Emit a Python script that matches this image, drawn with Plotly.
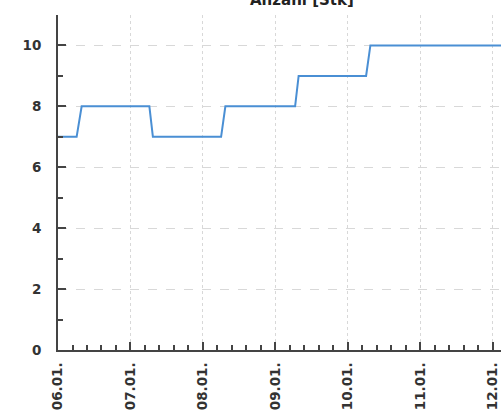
import plotly.graph_objects as go

# Data (step-like series)
times = [
    "2018-01-06 00:00", "2018-01-06 06:10", "2018-01-06 07:50",
    "2018-01-07 06:15", "2018-01-07 07:25",
    "2018-01-08 06:00", "2018-01-08 07:25",
    "2018-01-09 06:30", "2018-01-09 07:40",
    "2018-01-10 06:00", "2018-01-10 07:25",
    "2018-01-12 06:00",
]
values = [7, 7, 8, 8, 7, 7, 8, 8, 9, 9, 10, 10]

tick_vals = ["2018-01-06", "2018-01-07", "2018-01-08", "2018-01-09",
             "2018-01-10", "2018-01-11", "2018-01-12"]
tick_text = ["<b>06.01.</b>", "<b>07.01.</b>", "<b>08.01.</b>", "<b>09.01.</b>",
             "<b>10.01.</b>", "<b>11.01.</b>", "<b>12.01.</b>"]
y_ticks = [0, 2, 4, 6, 8, 10]
y_text = ["<b>0</b>", "<b>2</b>", "<b>4</b>", "<b>6</b>", "<b>8</b>", "<b>10</b>"]

fig = go.Figure()
fig.add_trace(go.Scatter(
    x=times, y=values, mode="lines",
    line=dict(color="#4a8fd4", width=2),
    showlegend=False,
))

axis_font = dict(family="DejaVu Sans", size=13.5, color="#333333")

fig.update_layout(
    width=501, height=412,
    margin=dict(l=58, r=0, t=15, b=62),
    paper_bgcolor="white", plot_bgcolor="white",
    xaxis=dict(
        range=["2018-01-06 00:00", "2018-01-12 02:40"],
        automargin=False,
        tickmode="array", tickvals=tick_vals, ticktext=tick_text,
        tickangle=-90, tickfont=axis_font, ticklabelstandoff=5,
        showline=True, linecolor="#444444", linewidth=2,
        ticks="inside", ticklen=8, tickwidth=1.5, tickcolor="#444444",
        showgrid=True, gridcolor="#d8d8d8", griddash="dot", gridwidth=1,
        minor=dict(dtick=17280000, ticks="inside", ticklen=5,
                   tickcolor="#444444", tickwidth=1.5, showgrid=False),
        zeroline=False,
    ),
    yaxis=dict(
        range=[0, 11],
        automargin=False,
        tickmode="array", tickvals=y_ticks, ticktext=y_text,
        tickfont=axis_font, ticklabelstandoff=12,
        showline=True, linecolor="#444444", linewidth=2,
        ticks="inside", ticklen=8, tickwidth=1.5, tickcolor="#444444",
        showgrid=True, gridcolor="#d8d8d8", griddash="dash", gridwidth=1,
        minor=dict(dtick=1, ticks="inside", ticklen=5,
                   tickcolor="#444444", tickwidth=1.5, showgrid=False),
        zeroline=False,
    ),
    annotations=[dict(
        text="<b>Anzahl [Stk]</b>", xref="paper", yref="paper",
        x=0.55, y=1, xanchor="center", yanchor="bottom", yshift=4,
        showarrow=False, font=dict(family="DejaVu Sans", size=15, color="#222222"),
    )],
)

fig.write_html(
    "out.html",
    config={"displayModeBar": False},
    post_script="document.body.style.margin='0px';document.body.style.overflow='hidden';",
)
